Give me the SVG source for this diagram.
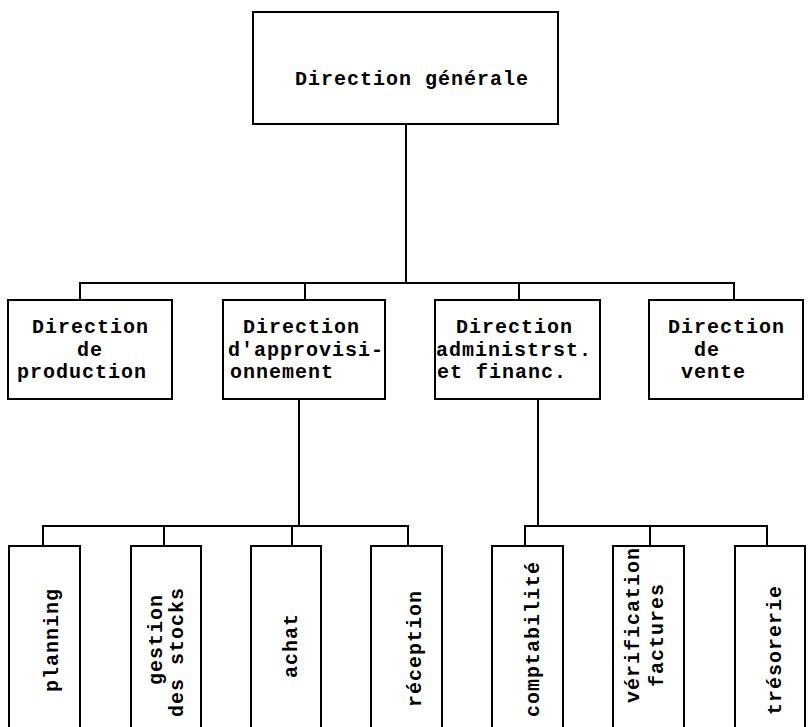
<svg xmlns="http://www.w3.org/2000/svg" width="808" height="727" viewBox="0 0 808 727">
  <style>
    .box { fill: #ffffff; stroke: #000000; stroke-width: 2; }
    .wire { fill: none; stroke: #000000; stroke-width: 2; }
    text { font-family: "Liberation Mono", "Courier New", monospace; font-weight: bold; font-size: 20px; letter-spacing: 1px; fill: #000000; }
  </style>
  <rect x="0" y="0" width="808" height="727" fill="#ffffff"/>

  <!-- connectors -->
  <g id="connectors" class="wire">
    <path d="M406,124 V283"/>
    <path d="M80,300 V283 H734 V300"/>
    <path d="M305,283 V300"/>
    <path d="M519,283 V300"/>
    <path d="M299,399 V526"/>
    <path d="M43,546 V526 H408 V546"/>
    <path d="M164,526 V546"/>
    <path d="M292,526 V546"/>
    <path d="M538,399 V526"/>
    <path d="M525,546 V526 H767 V546"/>
    <path d="M650,526 V546"/>
  </g>

  <!-- top level -->
  <g id="direction-generale">
    <rect class="box" x="253" y="12" width="305" height="112"/>
    <text x="295" y="85">Direction générale</text>
  </g>

  <!-- second level -->
  <g id="direction-production">
    <rect class="box" x="8" y="300" width="164" height="99"/>
    <text x="32" y="333">Direction</text>
    <text x="77" y="356">de</text>
    <text x="17" y="378">production</text>
  </g>
  <g id="direction-approvisionnement">
    <rect class="box" x="223" y="300" width="162" height="99"/>
    <text x="243" y="333">Direction</text>
    <text x="228" y="356">d'approvisi-</text>
    <text x="230" y="378">onnement</text>
  </g>
  <g id="direction-administrative">
    <rect class="box" x="435" y="300" width="165" height="99"/>
    <text x="456" y="333">Direction</text>
    <text x="436" y="356">administrst.</text>
    <text x="437" y="378">et financ.</text>
  </g>
  <g id="direction-vente">
    <rect class="box" x="649" y="300" width="154" height="99"/>
    <text x="668" y="333">Direction</text>
    <text x="694" y="356">de</text>
    <text x="681" y="378">vente</text>
  </g>

  <!-- third level -->
  <g id="planning">
    <rect class="box" x="9" y="546" width="71" height="200"/>
    <text transform="translate(58,692) rotate(-90)">planning</text>
  </g>
  <g id="gestion-stocks">
    <rect class="box" x="131" y="546" width="70" height="200"/>
    <text transform="translate(162,685) rotate(-90)">gestion</text>
    <text transform="translate(183,717) rotate(-90)">des stocks</text>
  </g>
  <g id="achat">
    <rect class="box" x="251" y="546" width="70" height="200"/>
    <text transform="translate(297,678) rotate(-90)">achat</text>
  </g>
  <g id="reception">
    <rect class="box" x="371" y="546" width="71" height="200"/>
    <text transform="translate(421,707) rotate(-90)">réception</text>
  </g>
  <g id="comptabilite">
    <rect class="box" x="492" y="546" width="71" height="200"/>
    <text transform="translate(539,717) rotate(-90)">comptabilité</text>
  </g>
  <g id="verification-factures">
    <rect class="box" x="613" y="546" width="71" height="200"/>
    <text transform="translate(639,703) rotate(-90)">vérification</text>
    <text transform="translate(663,687) rotate(-90)">factures</text>
  </g>
  <g id="tresorerie">
    <rect class="box" x="735" y="546" width="70" height="200"/>
    <text transform="translate(781,715) rotate(-90)">trésorerie</text>
  </g>
</svg>
